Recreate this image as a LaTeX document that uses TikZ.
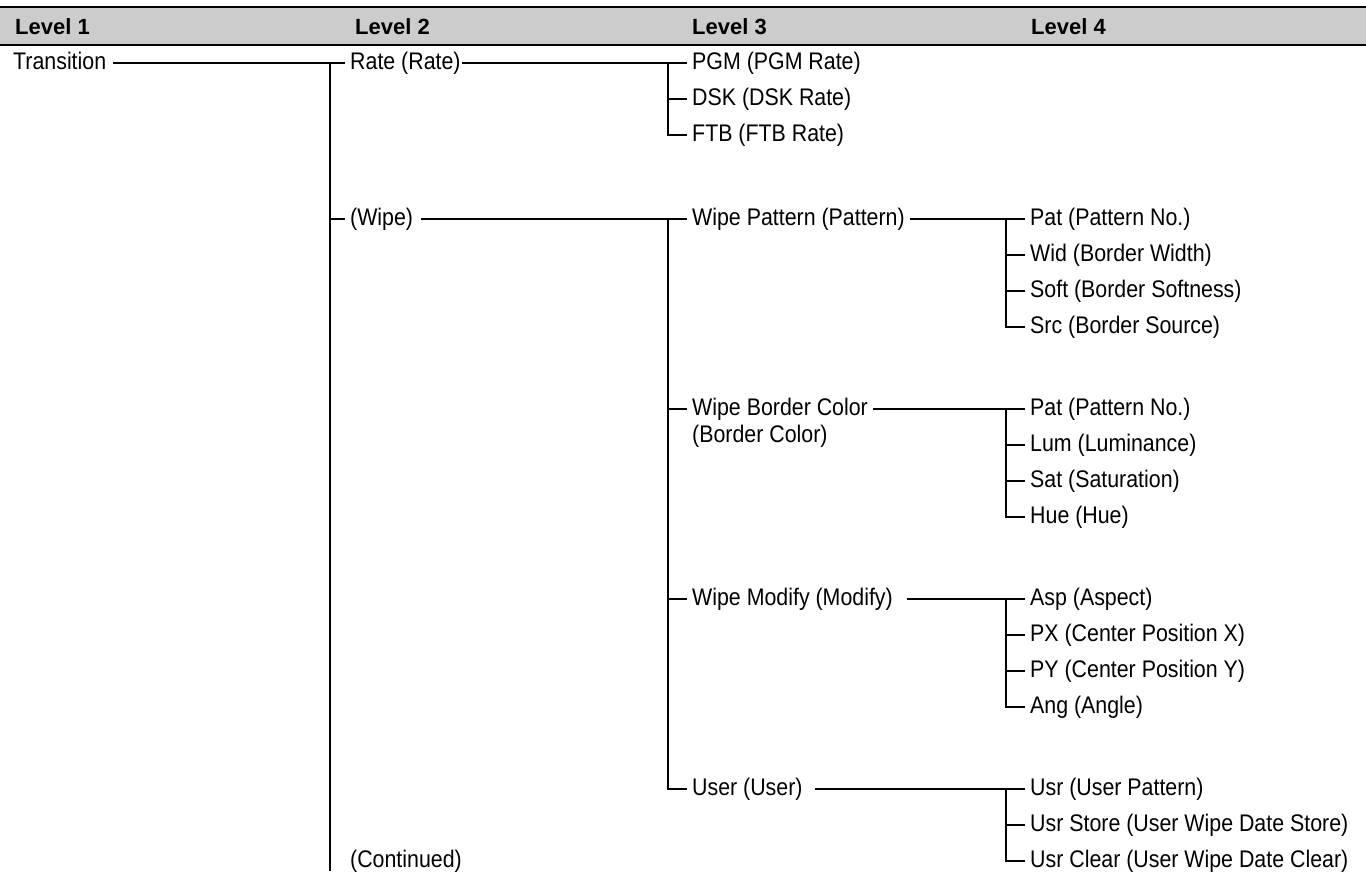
\documentclass[tikz,border=0pt]{standalone}
\usepackage{fontspec}
\setmainfont[FakeStretch=0.89]{Liberation Sans}
\newfontfamily\hdfont{Liberation Sans}
\definecolor{hdrgray}{HTML}{CCCCCC}
\begin{document}
\begin{tikzpicture}[x=1pt,y=-1pt,
  lbl/.style={inner xsep=5pt, inner ysep=0pt, text height=17pt, text depth=5pt, anchor=west, font=\fontsize{24}{28}\selectfont},
  hdr/.style={anchor=base west, inner sep=0pt, font=\hdfont\bfseries\fontsize{22}{26}\selectfont},
  conn/.style={line width=1.8pt},
  rule/.style={line width=2.8pt}]
\useasboundingbox (0,0) rectangle (1366,871);
% header band
\fill[hdrgray] (0,7) rectangle (1366,45);
\draw[rule] (0,7) -- (1366,7);
\draw[rule] (0,45) -- (1366,45);
\node[hdr] (h1) at (15,34) {Level 1};
\node[hdr] (h2) at (355,34) {Level 2};
\node[hdr] (h3) at (692,34) {Level 3};
\node[hdr] (h4) at (1031,34) {Level 4};
% level 1
\node[lbl] (trans) at (8,63) {Transition};
% level 2
\node[lbl] (rate) at (345,63) {Rate (Rate)};
\node[lbl] (wipe) at (345,219) {(Wipe)};
\node[lbl] (cont) at (345,861) {(Continued)};
% level 3
\node[lbl] (pgm) at (687,63) {PGM (PGM Rate)};
\node[lbl] (dsk) at (687,99) {DSK (DSK Rate)};
\node[lbl] (ftb) at (687,135) {FTB (FTB Rate)};
\node[lbl] (wp) at (687,219) {Wipe Pattern (Pattern)};
\node[lbl] (bc) at (687,409) {Wipe Border Color};
\node[lbl] (bc2) at (687,436) {(Border Color)};
\node[lbl] (wm) at (687,599) {Wipe Modify (Modify)};
\node[lbl] (user) at (687,789) {User (User)};
% level 4
\node[lbl] (pat1) at (1025,219) {Pat (Pattern No.)};
\node[lbl] (wid) at (1025,255) {Wid (Border Width)};
\node[lbl] (soft) at (1025,291) {Soft (Border Softness)};
\node[lbl] (src) at (1025,327) {Src (Border Source)};
\node[lbl] (pat2) at (1025,409) {Pat (Pattern No.)};
\node[lbl] (lum) at (1025,445) {Lum (Luminance)};
\node[lbl] (sat) at (1025,481) {Sat (Saturation)};
\node[lbl] (hue) at (1025,517) {Hue (Hue)};
\node[lbl] (asp) at (1025,599) {Asp (Aspect)};
\node[lbl] (px) at (1025,635) {PX (Center Position X)};
\node[lbl] (py) at (1025,671) {PY (Center Position Y)};
\node[lbl] (ang) at (1025,707) {Ang (Angle)};
\node[lbl] (usr) at (1025,789) {Usr (User Pattern)};
\node[lbl] (usrst) at (1025,825) {Usr Store (User Wipe Date Store)};
\node[lbl] (usrcl) at (1025,861) {Usr Clear (User Wipe Date Clear)};
% spine coordinates
\coordinate (v2top) at (330,63);
\coordinate (v2bot) at (330,871);
\coordinate (v3a) at (668,63);
\coordinate (v3b) at (668,219);
\coordinate (v4a) at (1006,219);
\coordinate (v4b) at (1006,409);
\coordinate (v4c) at (1006,599);
\coordinate (v4d) at (1006,789);
% level 1 -> 2
\draw[conn] ([xshift=2pt]trans.east) -- (rate.west);
\draw[conn] (v2top) -- (v2bot);
\draw[conn] (wipe.west -| v2top) -- (wipe.west);
% rate group
\draw[conn] ([xshift=-4pt]rate.east) -- (pgm.west);
\draw[conn] (v3a) |- (ftb.west);
\draw[conn] (dsk.west -| v3a) -- (dsk.west);
% wipe group
\draw[conn] ([xshift=3pt]wipe.east) -- (wp.west);
\draw[conn] (v3b) |- (user.west);
\draw[conn] (bc.west -| v3b) -- (bc.west);
\draw[conn] (wm.west -| v3b) -- (wm.west);
% wipe pattern
\draw[conn] (wp.east) -- (pat1.west);
\draw[conn] (v4a) |- (src.west);
\draw[conn] (wid.west -| v4a) -- (wid.west);
\draw[conn] (soft.west -| v4a) -- (soft.west);
% border color
\draw[conn] (bc.east) -- (pat2.west);
\draw[conn] (v4b) |- (hue.west);
\draw[conn] (lum.west -| v4b) -- (lum.west);
\draw[conn] (sat.west -| v4b) -- (sat.west);
% modify
\draw[conn] ([xshift=9pt]wm.east) -- (asp.west);
\draw[conn] (v4c) |- (ang.west);
\draw[conn] (px.west -| v4c) -- (px.west);
\draw[conn] (py.west -| v4c) -- (py.west);
% user
\draw[conn] ([xshift=7pt]user.east) -- (usr.west);
\draw[conn] (v4d) |- (usrcl.west);
\draw[conn] (usrst.west -| v4d) -- (usrst.west);
\end{tikzpicture}
\end{document}
